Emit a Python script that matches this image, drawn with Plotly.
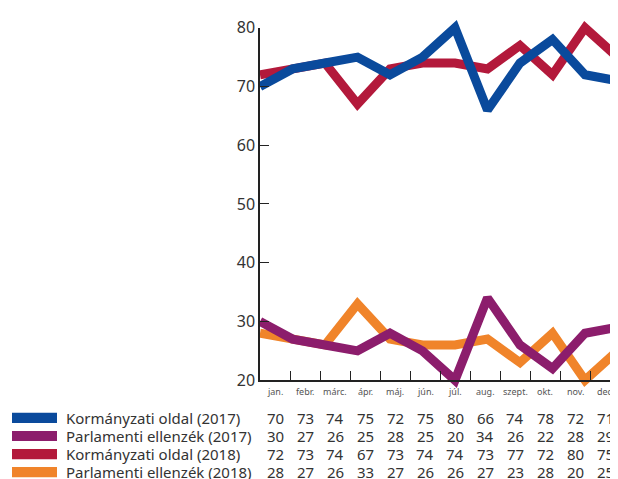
import plotly.graph_objects as go

months = ["jan.", "febr.", "márc.", "ápr.", "máj.", "jún.", "júl.", "aug.", "szept.", "okt.", "nov.", "dec."]
series_names = ["Kormányzati oldal (2017)", "Parlamenti ellenzék (2017)",
                "Kormányzati oldal (2018)", "Parlamenti ellenzék (2018)"]
korm_2017 = [70, 73, 74, 75, 72, 75, 80, 66, 74, 78, 72, 71]
ell_2017 = [30, 27, 26, 25, 28, 25, 20, 34, 26, 22, 28, 29]
korm_2018 = [72, 73, 74, 67, 73, 74, 74, 73, 77, 72, 80, 75]
ell_2018 = [28, 27, 26, 33, 27, 26, 26, 27, 23, 28, 20, 25]
y_ticks = [20, 30, 40, 50, 60, 70, 80]

colors = {
    "Kormányzati oldal (2017)": "#0a4a9c",
    "Parlamenti ellenzék (2017)": "#8c1d6c",
    "Kormányzati oldal (2018)": "#b3193b",
    "Parlamenti ellenzék (2018)": "#f0842a",
}
values = {
    "Kormányzati oldal (2017)": korm_2017,
    "Parlamenti ellenzék (2017)": ell_2017,
    "Kormányzati oldal (2018)": korm_2018,
    "Parlamenti ellenzék (2018)": ell_2018,
}

# page body has an 8px margin; target coordinates are screen pixels
OFF = 8
W, H = 618, 479
ML = 260 - OFF
MR = 0
MT = 11 - OFF
PH = 378
MB = H - MT - PH
PW = W - ML - MR
PY0 = MT + PH  # figure-pixel y of paper 0

def py(screen_y):
    return (PY0 - (screen_y - OFF)) / PH

def px(screen_x):
    return ((screen_x - OFF) - ML) / PW

FONT = "Noto Sans"
fig = go.Figure()

draw_order = ["Parlamenti ellenzék (2018)", "Kormányzati oldal (2018)",
              "Parlamenti ellenzék (2017)", "Kormányzati oldal (2017)"]
idx = list(range(len(months)))
for name in draw_order:
    fig.add_trace(go.Scatter(x=idx, y=values[name], mode="lines", name=name,
                             line=dict(color=colors[name], width=9),
                             showlegend=False, hoverinfo="skip",
                             xaxis="x", yaxis="y"))

unit = 360 / 60  # px per y unit
fig.update_layout(
    width=W, height=H,
    margin=dict(l=ML, r=MR, t=MT, b=MB),
    paper_bgcolor="white", plot_bgcolor="rgba(0,0,0,0)",
    font=dict(family=FONT, color="#333"),
    showlegend=False,
    xaxis=dict(domain=[0, 1], range=[0, PW / 32.5], visible=False, anchor="y"),
    yaxis=dict(domain=[0, 1], range=[20 - 9 / unit, 80 + 9 / unit], visible=False, anchor="x"),
    xaxis2=dict(domain=[0, 1], anchor="y2", range=[-0.5, -0.5 + PW / 30],
                tickmode="array", tickvals=[i - 0.5 for i in range(len(months) + 1)],
                showticklabels=False, ticks="inside", ticklen=9, tickcolor="#222",
                tickwidth=1.3, showline=True, linecolor="#222", linewidth=1.5,
                showgrid=False, zeroline=False),
    yaxis2=dict(domain=[py(380), py(20)], anchor="x2", range=[20, 80],
                tickmode="array", tickvals=y_ticks, ticks="inside", ticklen=9,
                tickcolor="#222", tickwidth=1.3, showline=True, linecolor="#222",
                linewidth=1.5, showgrid=False, zeroline=False,
                tickfont=dict(size=16, color="#333", family=FONT)),
)

annotations = []
for i, m in enumerate(months):
    annotations.append(dict(x=i, y=py(392), xref="x2", yref="paper", text=m,
                            showarrow=False, font=dict(size=9, color="#555", family=FONT),
                            xanchor="center", yanchor="middle"))

row_y = [418.5, 437, 455.5, 474]
shapes = []
for r, name in enumerate(series_names):
    yc = row_y[r]
    shapes.append(dict(type="rect", xref="paper", yref="paper",
                       x0=px(12), x1=px(57), y0=py(yc + 5.2), y1=py(yc - 5.2),
                       fillcolor=colors[name], line=dict(width=0)))
    annotations.append(dict(x=px(64), y=py(yc), xref="paper", yref="paper", text=name,
                            showarrow=False, xanchor="left", yanchor="middle",
                            font=dict(size=15, color="#333", family=FONT)))
    for i, v in enumerate(values[name]):
        annotations.append(dict(x=i, y=py(yc), xref="x2", yref="paper", text=str(v),
                                showarrow=False, xanchor="center", yanchor="middle",
                                font=dict(size=15, color="#333", family=FONT)))

fig.update_layout(annotations=annotations, shapes=shapes)
fig.write_html("out.html")
